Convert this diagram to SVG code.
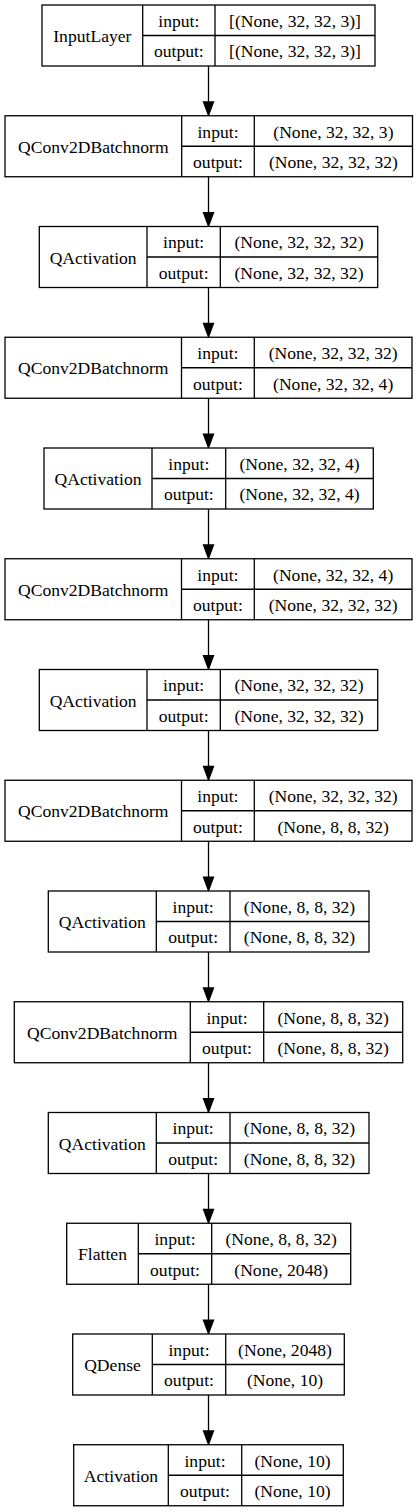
<svg xmlns="http://www.w3.org/2000/svg" width="417" height="1512" viewBox="0 0 417 1512">
<style>
.bg{fill:#fff}
.box{fill:#fff;stroke:#000;stroke-width:1.3}
.div{fill:none;stroke:#000;stroke-width:1.3}
text{font-family:'Liberation Serif','DejaVu Serif',serif;font-size:17.6px;fill:#000;text-anchor:middle}
.edge{fill:none;stroke:#000;stroke-width:1.3}
.head{fill:#000;stroke:#000;stroke-width:1.3}
</style>
<rect class="bg" x="0" y="0" width="417" height="1512"/>
<g id="connectors">
<path class="edge" d="M208.5 66V102"/><polygon class="head" points="203.5,102 213.5,102 208.5,115.5"/>
<path class="edge" d="M208.5 176.75V212.75"/><polygon class="head" points="203.5,212.75 213.5,212.75 208.5,226.25"/>
<path class="edge" d="M208.5 287.5V323.5"/><polygon class="head" points="203.5,323.5 213.5,323.5 208.5,337"/>
<path class="edge" d="M208.5 398.25V434.25"/><polygon class="head" points="203.5,434.25 213.5,434.25 208.5,447.75"/>
<path class="edge" d="M208.5 509V545"/><polygon class="head" points="203.5,545 213.5,545 208.5,558.5"/>
<path class="edge" d="M208.5 619.75V655.75"/><polygon class="head" points="203.5,655.75 213.5,655.75 208.5,669.25"/>
<path class="edge" d="M208.5 730.5V766.5"/><polygon class="head" points="203.5,766.5 213.5,766.5 208.5,780"/>
<path class="edge" d="M208.5 841.25V877.25"/><polygon class="head" points="203.5,877.25 213.5,877.25 208.5,890.75"/>
<path class="edge" d="M208.5 952V988"/><polygon class="head" points="203.5,988 213.5,988 208.5,1001.5"/>
<path class="edge" d="M208.5 1062.75V1098.75"/><polygon class="head" points="203.5,1098.75 213.5,1098.75 208.5,1112.25"/>
<path class="edge" d="M208.5 1173.5V1209.5"/><polygon class="head" points="203.5,1209.5 213.5,1209.5 208.5,1223"/>
<path class="edge" d="M208.5 1284.25V1320.25"/><polygon class="head" points="203.5,1320.25 213.5,1320.25 208.5,1333.75"/>
<path class="edge" d="M208.5 1395V1431"/><polygon class="head" points="203.5,1431 213.5,1431 208.5,1444.5"/>
</g>
<g id="n0">
<rect class="box" x="42" y="5" width="333" height="61"/>
<path class="div" d="M142.7 5V66M215 5V66M142.7 35.5H375"/>
<text x="92.35" y="42">InputLayer</text>
<text x="178.85" y="26.75">input:</text>
<text x="178.85" y="57.25">output:</text>
<text x="295" y="26.75">[(None, 32, 32, 3)]</text>
<text x="295" y="57.25">[(None, 32, 32, 3)]</text>
</g>
<g id="n1">
<rect class="box" x="5" y="115.75" width="407.5" height="61"/>
<path class="div" d="M181.7 115.75V176.75M254.3 115.75V176.75M181.7 146.25H412.5"/>
<text x="93.35" y="152.75">QConv2DBatchnorm</text>
<text x="218" y="137.5">input:</text>
<text x="218" y="168">output:</text>
<text x="333.4" y="137.5">(None, 32, 32, 3)</text>
<text x="333.4" y="168">(None, 32, 32, 32)</text>
</g>
<g id="n2">
<rect class="box" x="39.3" y="226.5" width="338.4" height="61"/>
<path class="div" d="M147 226.5V287.5M220.3 226.5V287.5M147 257H377.7"/>
<text x="93.15" y="263.5">QActivation</text>
<text x="183.65" y="248.25">input:</text>
<text x="183.65" y="278.75">output:</text>
<text x="299" y="248.25">(None, 32, 32, 32)</text>
<text x="299" y="278.75">(None, 32, 32, 32)</text>
</g>
<g id="n3">
<rect class="box" x="5" y="337.25" width="407" height="61"/>
<path class="div" d="M181.5 337.25V398.25M254.3 337.25V398.25M181.5 367.75H412"/>
<text x="93.25" y="374.25">QConv2DBatchnorm</text>
<text x="217.9" y="359">input:</text>
<text x="217.9" y="389.5">output:</text>
<text x="333.15" y="359">(None, 32, 32, 32)</text>
<text x="333.15" y="389.5">(None, 32, 32, 4)</text>
</g>
<g id="n4">
<rect class="box" x="44" y="448" width="329.3" height="61"/>
<path class="div" d="M152 448V509M225.7 448V509M152 478.5H373.3"/>
<text x="98" y="485">QActivation</text>
<text x="188.85" y="469.75">input:</text>
<text x="188.85" y="500.25">output:</text>
<text x="299.5" y="469.75">(None, 32, 32, 4)</text>
<text x="299.5" y="500.25">(None, 32, 32, 4)</text>
</g>
<g id="n5">
<rect class="box" x="5" y="558.75" width="407" height="61"/>
<path class="div" d="M181.5 558.75V619.75M254.3 558.75V619.75M181.5 589.25H412"/>
<text x="93.25" y="595.75">QConv2DBatchnorm</text>
<text x="217.9" y="580.5">input:</text>
<text x="217.9" y="611">output:</text>
<text x="333.15" y="580.5">(None, 32, 32, 4)</text>
<text x="333.15" y="611">(None, 32, 32, 32)</text>
</g>
<g id="n6">
<rect class="box" x="39.3" y="669.5" width="338.4" height="61"/>
<path class="div" d="M147 669.5V730.5M220.3 669.5V730.5M147 700H377.7"/>
<text x="93.15" y="706.5">QActivation</text>
<text x="183.65" y="691.25">input:</text>
<text x="183.65" y="721.75">output:</text>
<text x="299" y="691.25">(None, 32, 32, 32)</text>
<text x="299" y="721.75">(None, 32, 32, 32)</text>
</g>
<g id="n7">
<rect class="box" x="5" y="780.25" width="407" height="61"/>
<path class="div" d="M181.5 780.25V841.25M254.3 780.25V841.25M181.5 810.75H412"/>
<text x="93.25" y="817.25">QConv2DBatchnorm</text>
<text x="217.9" y="802">input:</text>
<text x="217.9" y="832.5">output:</text>
<text x="333.15" y="802">(None, 32, 32, 32)</text>
<text x="333.15" y="832.5">(None, 8, 8, 32)</text>
</g>
<g id="n8">
<rect class="box" x="48.3" y="891" width="320.7" height="61"/>
<path class="div" d="M156.3 891V952M230 891V952M156.3 921.5H369"/>
<text x="102.3" y="928">QActivation</text>
<text x="193.15" y="912.75">input:</text>
<text x="193.15" y="943.25">output:</text>
<text x="299.5" y="912.75">(None, 8, 8, 32)</text>
<text x="299.5" y="943.25">(None, 8, 8, 32)</text>
</g>
<g id="n9">
<rect class="box" x="14.3" y="1001.75" width="388.4" height="61"/>
<path class="div" d="M190.3 1001.75V1062.75M263.7 1001.75V1062.75M190.3 1032.25H402.7"/>
<text x="102.3" y="1038.75">QConv2DBatchnorm</text>
<text x="227" y="1023.5">input:</text>
<text x="227" y="1054">output:</text>
<text x="333.2" y="1023.5">(None, 8, 8, 32)</text>
<text x="333.2" y="1054">(None, 8, 8, 32)</text>
</g>
<g id="n10">
<rect class="box" x="48.3" y="1112.5" width="320.7" height="61"/>
<path class="div" d="M156.3 1112.5V1173.5M230 1112.5V1173.5M156.3 1143H369"/>
<text x="102.3" y="1149.5">QActivation</text>
<text x="193.15" y="1134.25">input:</text>
<text x="193.15" y="1164.75">output:</text>
<text x="299.5" y="1134.25">(None, 8, 8, 32)</text>
<text x="299.5" y="1164.75">(None, 8, 8, 32)</text>
</g>
<g id="n11">
<rect class="box" x="66.7" y="1223.25" width="284" height="61"/>
<path class="div" d="M138.3 1223.25V1284.25M211.7 1223.25V1284.25M138.3 1253.75H350.7"/>
<text x="102.5" y="1260.25">Flatten</text>
<text x="175" y="1245">input:</text>
<text x="175" y="1275.5">output:</text>
<text x="281.2" y="1245">(None, 8, 8, 32)</text>
<text x="281.2" y="1275.5">(None, 2048)</text>
</g>
<g id="n12">
<rect class="box" x="72.7" y="1334" width="271.6" height="61"/>
<path class="div" d="M152.3 1334V1395M225.7 1334V1395M152.3 1364.5H344.3"/>
<text x="112.5" y="1371">QDense</text>
<text x="189" y="1355.75">input:</text>
<text x="189" y="1386.25">output:</text>
<text x="285" y="1355.75">(None, 2048)</text>
<text x="285" y="1386.25">(None, 10)</text>
</g>
<g id="n13">
<rect class="box" x="73.7" y="1444.75" width="269.6" height="61"/>
<path class="div" d="M168.3 1444.75V1505.75M241.7 1444.75V1505.75M168.3 1475.25H343.3"/>
<text x="121" y="1481.75">Activation</text>
<text x="205" y="1466.5">input:</text>
<text x="205" y="1497">output:</text>
<text x="292.5" y="1466.5">(None, 10)</text>
<text x="292.5" y="1497">(None, 10)</text>
</g>
</svg>
